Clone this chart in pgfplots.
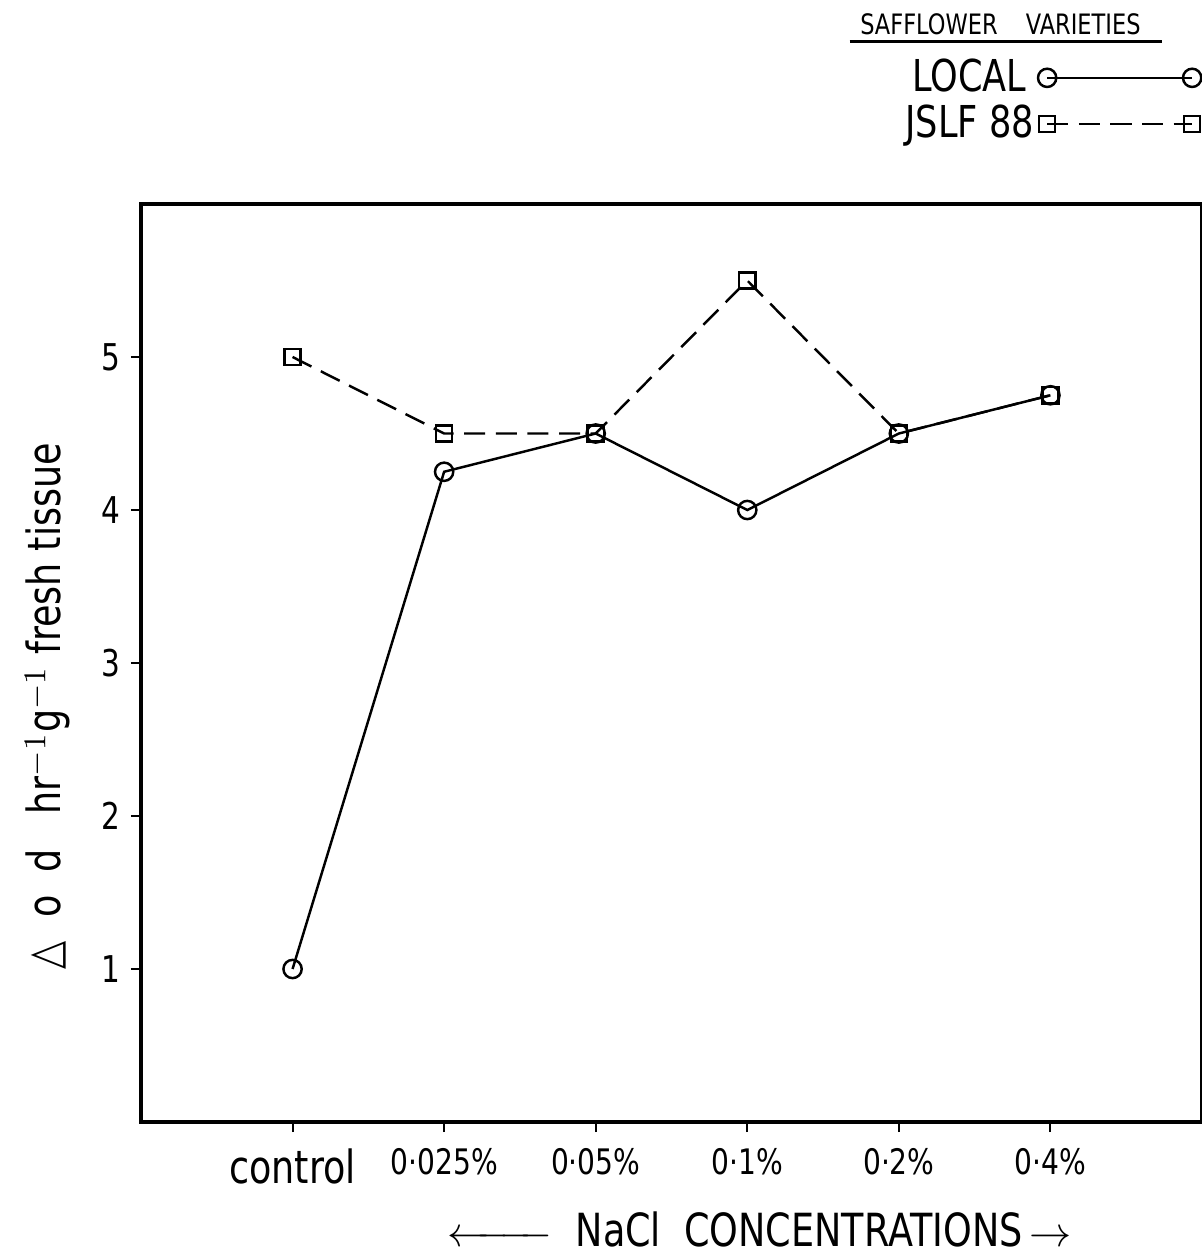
\documentclass[border=0pt]{standalone}
\usepackage{fontspec}
\setmainfont{DejaVu Sans}[FakeStretch=0.8]
\usepackage{amsmath}
\usepackage{pgfplots}
\pgfplotsset{compat=1.18}

\begin{document}
\begin{tikzpicture}
\begin{axis}[
  at={(0,0)}, anchor=south west,
  scale only axis,
  width=10.61cm, height=9.18cm,
  xmin=-1, xmax=6, ymin=0, ymax=6,
  clip=false,
  xtick={0,1,2,3,4,5},
  xticklabels={{\fontsize{13}{14}\selectfont control},0·025\%,0·05\%,0·1\%,0·2\%,0·4\%},
  ytick={1,2,3,4,5},
  tick pos=left,
  tick align=outside,
  major tick length=1mm,
  tick style={black, line width=0.6pt},
  axis line style={line width=1pt},
  /pgf/number format/assume math mode=true,
  yticklabel style={font=\fontsize{10.5}{12}\selectfont, xshift=0.2mm},
  xticklabel style={font=\fontsize{10}{12}\selectfont, yshift=-0.4mm, anchor=north},
  xlabel={$\xleftarrow{\hspace{8mm}}$\ \ NaCl\ \ CONCENTRATIONS$\,\rightarrow$},
  xlabel style={at={(axis description cs:0.583,-0.117)}, anchor=center, font=\fontsize{13}{15}\selectfont},
  ylabel={△\ \ o\ \ d\ \ \ hr$^{-1}$g$^{-1}$\ fresh tissue},
  ylabel style={at={(axis description cs:-0.088,0.453)}, anchor=center, font=\fontsize{13}{15}\selectfont},
  legend style={at={(axis description cs:1,1)}, anchor=south east, yshift=5.6mm,
    draw=none, fill=none, font=\fontsize{12.5}{14}\selectfont, row sep=0pt,
    inner sep=0pt, nodes={inner sep=1.2pt}},
  legend plot pos=right,
  legend cell align=right,
  legend image code/.code={\draw[#1] plot coordinates {(0cm,0cm) (1.45cm,0cm)};},
]
\addplot[black, line width=0.7pt, mark=o, mark size=2.6pt, mark options={solid, line width=0.7pt}]
  coordinates {(0,1.0) (1,4.25) (2,4.5) (3,4.0) (4,4.5) (5,4.75)};
\addlegendentry{LOCAL\,}
\addplot[black, line width=0.7pt, dash pattern=on 6pt off 3pt, mark=square, mark size=2.3pt, mark options={solid, line width=0.7pt}]
  coordinates {(0,5.0) (1,4.5) (2,4.5) (3,5.5) (4,4.5) (5,4.75)};
\addlegendentry{JSLF 88}
\node[font=\fontsize{8}{9}\selectfont] at (axis description cs:0.81,1.196) {SAFFLOWER\quad VARIETIES};
\draw[line width=0.6pt] (axis description cs:0.668,1.177) -- (axis description cs:0.962,1.177);
\end{axis}
\pgfresetboundingbox
\useasboundingbox (-1.41,-1.30) rectangle (10.61,11.22);
\end{tikzpicture}
\end{document}
